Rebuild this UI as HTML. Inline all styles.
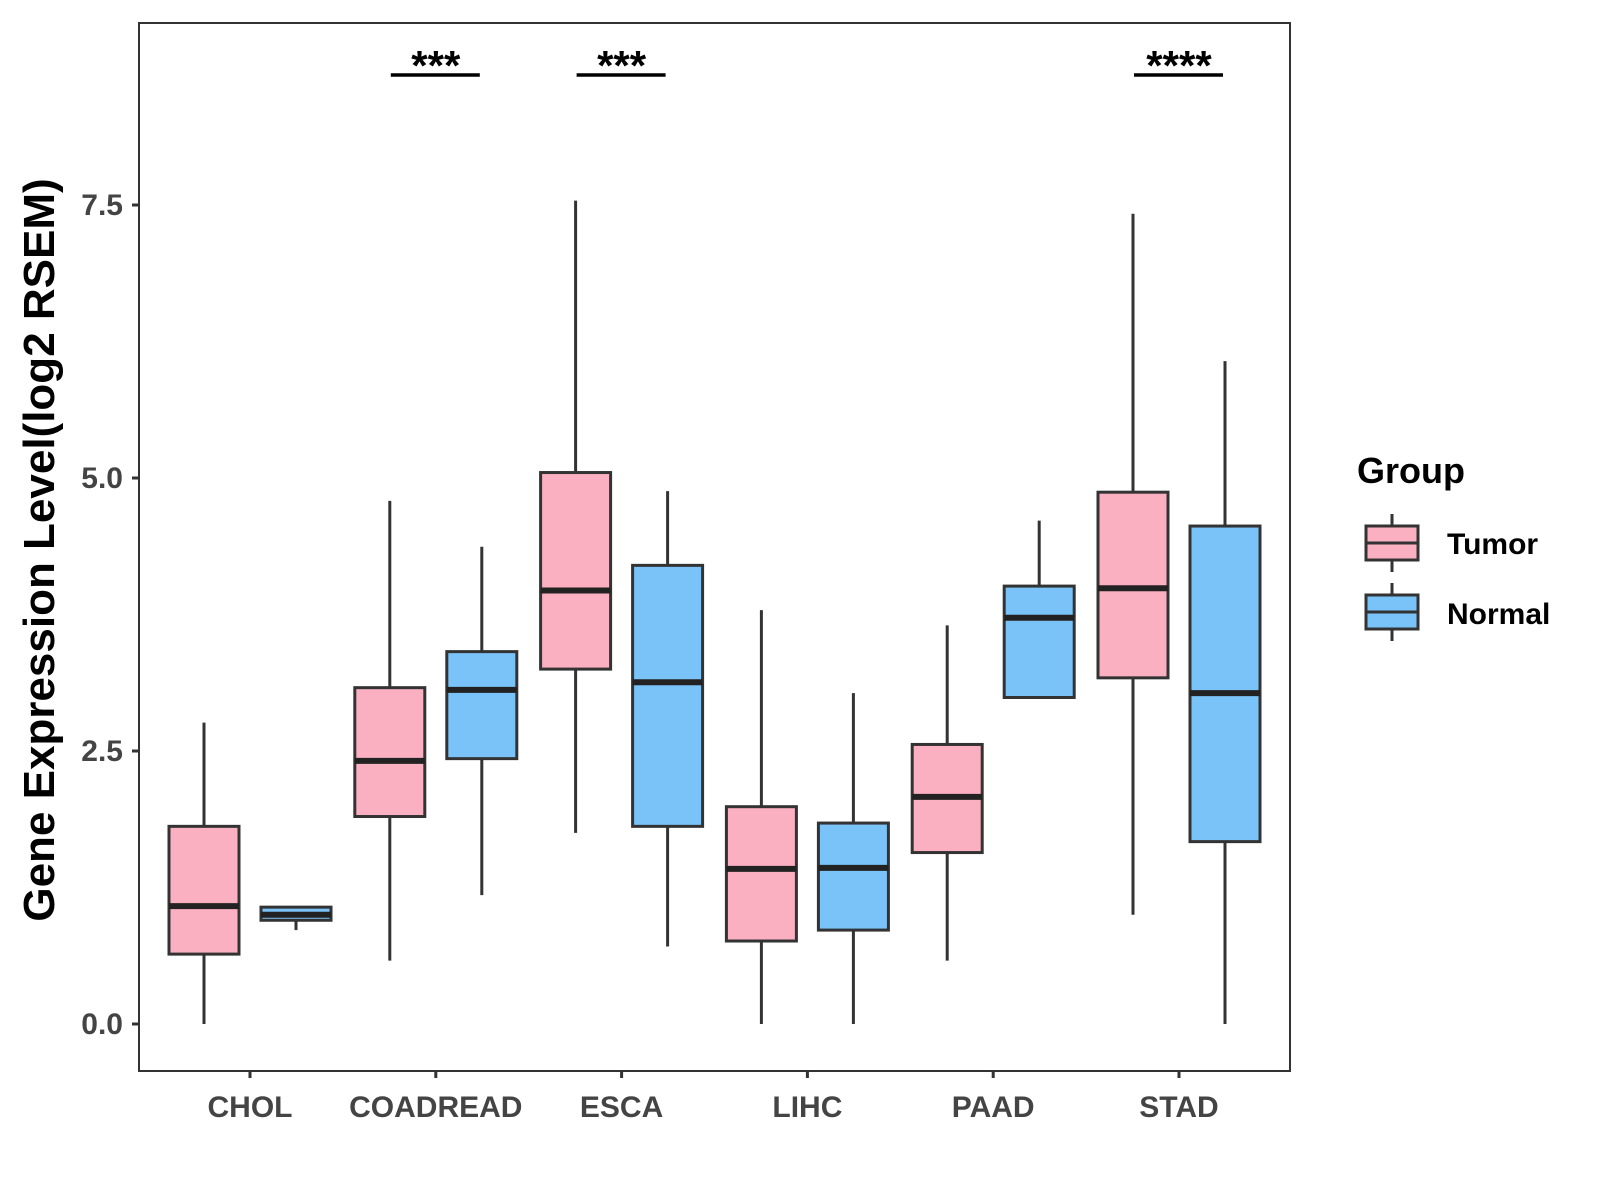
<!DOCTYPE html>
<html><head><meta charset="utf-8"><style>
body{margin:0;background:#fff}
svg{display:block;font-family:"Liberation Sans",Arial,sans-serif;font-weight:bold}
</style></head><body>
<svg id="chart" width="1600" height="1200" viewBox="0 0 1600 1200" xmlns="http://www.w3.org/2000/svg">
<rect x="0" y="0" width="1600" height="1200" fill="#fff"/>
<rect x="139" y="23" width="1151" height="1048" fill="none" stroke="#333" stroke-width="2"/>
<g id="marks"></g>
<text transform="translate(54,550) rotate(-90)" text-anchor="middle" font-size="44" fill="#000">Gene Expression Level(log2 RSEM)</text>
<g>
<text x="1357" y="483" font-size="36" fill="#000">Group</text>
<g>
<line x1="1392" y1="514" x2="1392" y2="572" stroke="#333" stroke-width="3"/>
<rect x="1366" y="526" width="52" height="34" fill="#FBB0C2" stroke="#333" stroke-width="3"/>
<line x1="1366" y1="543" x2="1418" y2="543" stroke="#333" stroke-width="3"/>
<text x="1447" y="554" font-size="30" fill="#000">Tumor</text>
</g>
<g>
<line x1="1392" y1="583" x2="1392" y2="641" stroke="#333" stroke-width="3"/>
<rect x="1366" y="595" width="52" height="34" fill="#7AC3F8" stroke="#333" stroke-width="3"/>
<line x1="1366" y1="612" x2="1418" y2="612" stroke="#333" stroke-width="3"/>
<text x="1447" y="624" font-size="30" fill="#000">Normal</text>
</g>
</g>
</svg>
<script>
const categories = ["CHOL","COADREAD","ESCA","LIHC","PAAD","STAD"];
const groups = ["Tumor","Normal"];
// [lower whisker, Q1, median, Q3, upper whisker]
const tumorStats = [[0,0.64,1.08,1.81,2.76],[0.58,1.9,2.41,3.08,4.79],[1.75,3.25,3.97,5.05,7.54],[0,0.76,1.42,1.99,3.79],[0.58,1.57,2.08,2.56,3.65],[1.0,3.17,3.99,4.87,7.42]];
const normalStats = [[0.86,0.95,1.0,1.07,1.07],[1.18,2.43,3.06,3.41,4.37],[0.71,1.81,3.13,4.2,4.88],[0,0.86,1.43,1.84,3.03],[2.99,2.99,3.72,4.01,4.61],[0,1.67,3.03,4.56,6.07]];
const yTicks = [0,2.5,5,7.5];
const yTickLabels = ["0.0","2.5","5.0","7.5"];
const sigCategories = ["COADREAD","ESCA","STAD"];
const sigLabels = ["***","***","****"];
const sigY = 8.69;

const NS="http://www.w3.org/2000/svg";
const g=document.getElementById('marks');
const x0=250, step=185.8;
function xScale(i){return x0+i*step;}
function yScale(v){return 1024-v*109.2;}
function mk(tag,attrs,parent){const e=document.createElementNS(NS,tag);for(const k in attrs)e.setAttribute(k,attrs[k]);(parent||g).appendChild(e);return e;}

yTicks.forEach((v,i)=>{
  const t=mk('line',{x1:132,x2:139,y1:yScale(v),y2:yScale(v),stroke:'#333','stroke-width':3});
  
  
  const l=mk('text',{x:123,y:yScale(v)+10,'text-anchor':'end','font-size':30,fill:'#444'});
  
  
  l.textContent=yTickLabels[i];
});
categories.forEach((c,i)=>{
  const t=mk('line',{x1:xScale(i),x2:xScale(i),y1:1071,y2:1078,stroke:'#333','stroke-width':3});
  
  
  const l=mk('text',{x:xScale(i),y:1117,'text-anchor':'middle','font-size':30,fill:'#444'});
  
  
  l.textContent=c;
});
function drawBox(s,cx,fill,name){
  const bg=mk('g',{});
  
  
  mk('line',{x1:cx,x2:cx,y1:yScale(s[0]),y2:yScale(s[4]),stroke:'#333','stroke-width':3},bg);
  mk('rect',{x:cx-35,y:yScale(s[3]),width:70,height:Math.max(0.5,yScale(s[1])-yScale(s[3])),fill:fill,stroke:'#333','stroke-width':3},bg);
  mk('line',{x1:cx-35,x2:cx+35,y1:yScale(s[2]),y2:yScale(s[2]),stroke:'#222','stroke-width':6},bg);
}
categories.forEach((c,i)=>{
  drawBox(tumorStats[i],xScale(i)-46,'#FBB0C2','box-'+c.toLowerCase()+'-tumor');
  drawBox(normalStats[i],xScale(i)+46,'#7AC3F8','box-'+c.toLowerCase()+'-normal');
});
sigCategories.forEach((c,j)=>{
  const i=categories.indexOf(c);
  const sg=mk('g',{});
  
  
  mk('line',{x1:xScale(i)-45,x2:xScale(i)+44,y1:yScale(sigY),y2:yScale(sigY),stroke:'#000','stroke-width':3.5},sg);
  const t=mk('text',{x:xScale(i),y:yScale(sigY)+5,'text-anchor':'middle','font-size':42,fill:'#000'},sg);
  t.textContent=sigLabels[j];
});
</script>
</body></html>
